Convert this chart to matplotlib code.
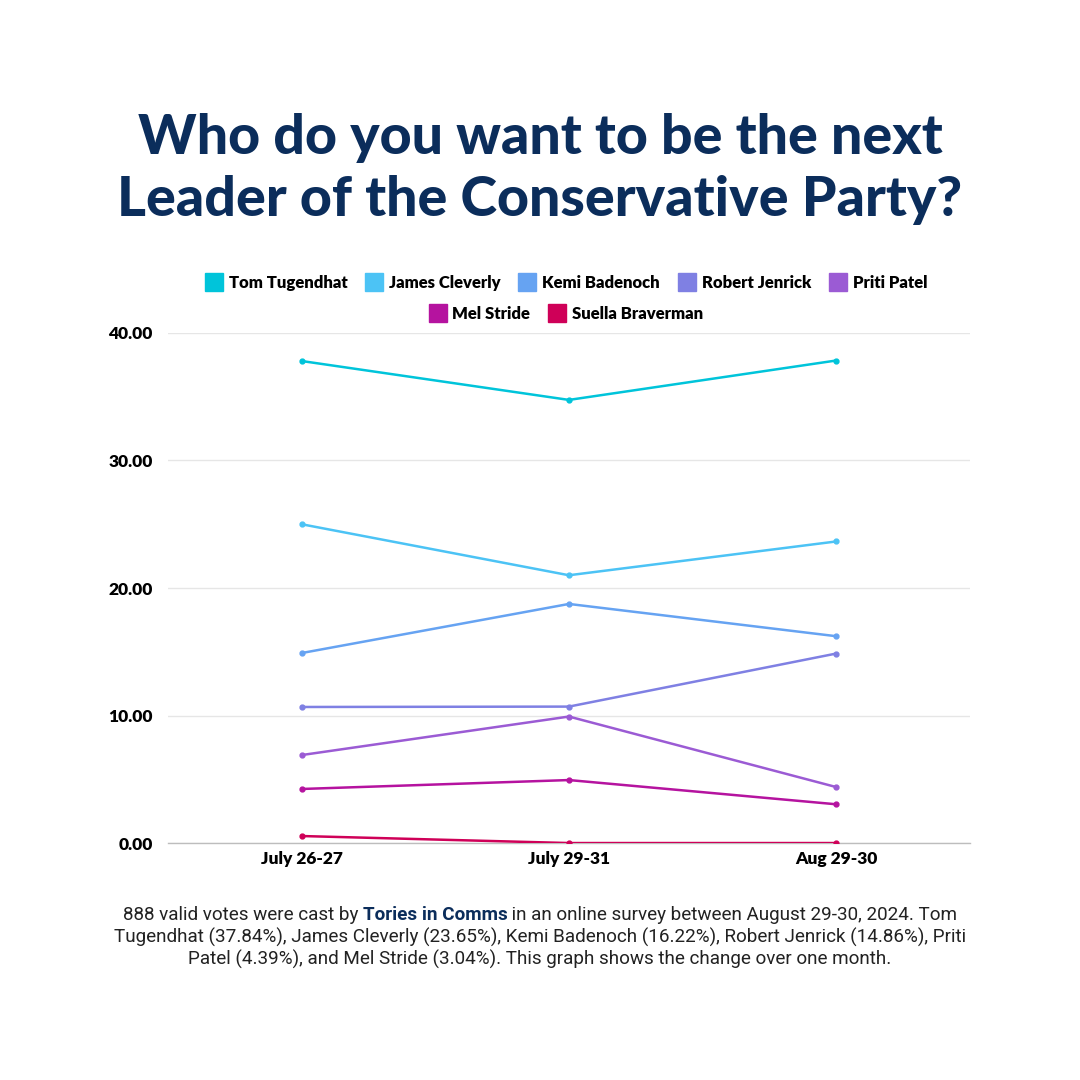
import matplotlib
matplotlib.use("Agg")
import matplotlib.pyplot as plt
from matplotlib.lines import Line2D

periods = ["July 26-27", "July 29-31", "Aug 29-30"]
candidates = ["Tom Tugendhat", "James Cleverly", "Kemi Badenoch", "Robert Jenrick",
              "Priti Patel", "Mel Stride", "Suella Braverman"]
tom = [37.8, 34.75, 37.84]
james = [25.0, 21.0, 23.65]
kemi = [14.9, 18.75, 16.22]
robert = [10.67, 10.7, 14.86]
priti = [6.9, 9.92, 4.39]
mel = [4.24, 4.94, 3.04]
suella = [0.55, 0.0, 0.0]
series = [tom, james, kemi, robert, priti, mel, suella]
colors = ["#00C4DA", "#4CC3F5", "#66A3F2", "#7F80E3", "#9B5BD4", "#B5139F", "#CF0058"]
yticks = [0, 10, 20, 30, 40]

navy = "#0B2D5B"
fig = plt.figure(figsize=(10.8, 10.8), dpi=100)
fig.patch.set_facecolor("white")

ax = fig.add_axes([0.1556, 0.2194, 0.898 - 0.1556, 0.6917 - 0.2194])
x = list(range(len(periods)))
for vals, c in zip(series, colors):
    ax.plot(x, vals, color=c, lw=1.8, marker="o", ms=3.5, zorder=3)
ax.set_xlim(-0.5, 2.5)
ax.set_ylim(0, 40)
ax.set_yticks(yticks)
ax.set_yticklabels([f"{v:.2f}" for v in yticks], fontsize=12.5, fontweight="heavy",
                   family="Lato", color="black")
ax.set_xticks(x)
ax.set_xticklabels(periods, fontsize=12.5, fontweight="heavy", family="Lato", color="black")
ax.tick_params(length=0, pad=11)
ax.tick_params(axis="x", pad=6)
for s in ["top", "right", "left"]:
    ax.spines[s].set_visible(False)
ax.spines["bottom"].set_color("#BDBDBD")
ax.spines["bottom"].set_linewidth(1)
ax.grid(axis="y", color="#E6E6E6", lw=1, zorder=0)
ax.set_axisbelow(True)

# Title
fig.text(0.5, 1 - 138 / 1080, "Who do you want to be the next", ha="center", va="center",
         fontsize=40, fontweight="black", family="Lato", color=navy)
fig.text(0.5, 1 - 200 / 1080, "Leader of the Conservative Party?", ha="center", va="center",
         fontsize=40, fontweight="black", family="Lato", color=navy)

# Legends
def handles(idx):
    return [Line2D([], [], ls="none", marker="s", ms=13, mfc=colors[i], mec=colors[i]) for i in idx]

leg_kw = dict(frameon=False, handlelength=0.8, handletextpad=0.5, columnspacing=1.2,
              prop={"family": "Lato", "weight": "heavy", "size": 12}, loc="center")
l1 = fig.legend(handles(range(5)), candidates[:5], ncol=5, bbox_to_anchor=(0.525, 1 - 283 / 1080), **leg_kw)
l2 = fig.legend(handles(range(5, 7)), candidates[5:], ncol=2, bbox_to_anchor=(0.525, 1 - 314 / 1080), **leg_kw)

# Caption
cap_font = dict(family="Roboto", fontsize=13.6, color="#222222")
fig.canvas.draw()
r = fig.canvas.get_renderer()
parts = [("888 valid votes were cast by ", "normal", "#222222"),
         ("Tories in Comms", "bold", navy),
         (" in an online survey between August 29-30, 2024. Tom", "normal", "#222222")]
texts = []
for s, w, c in parts:
    t = fig.text(0, 1 - 915 / 1080, s, ha="left", va="center", family="Roboto",
                 fontsize=13.6, fontweight=w, color=c)
    texts.append(t)
widths = [t.get_window_extent(renderer=r).width for t in texts]
total = sum(widths)
start = 540 - total / 2
for t, wd in zip(texts, widths):
    t.set_x(start / 1080)
    start += wd
fig.text(0.5, 1 - 937 / 1080, "Tugendhat (37.84%), James Cleverly (23.65%), Kemi Badenoch (16.22%), Robert Jenrick (14.86%), Priti",
         ha="center", va="center", **cap_font)
fig.text(0.5, 1 - 959 / 1080, "Patel (4.39%), and Mel Stride (3.04%). This graph shows the change over one month.",
         ha="center", va="center", **cap_font)

fig.savefig("out.png", dpi=100, facecolor="white")
